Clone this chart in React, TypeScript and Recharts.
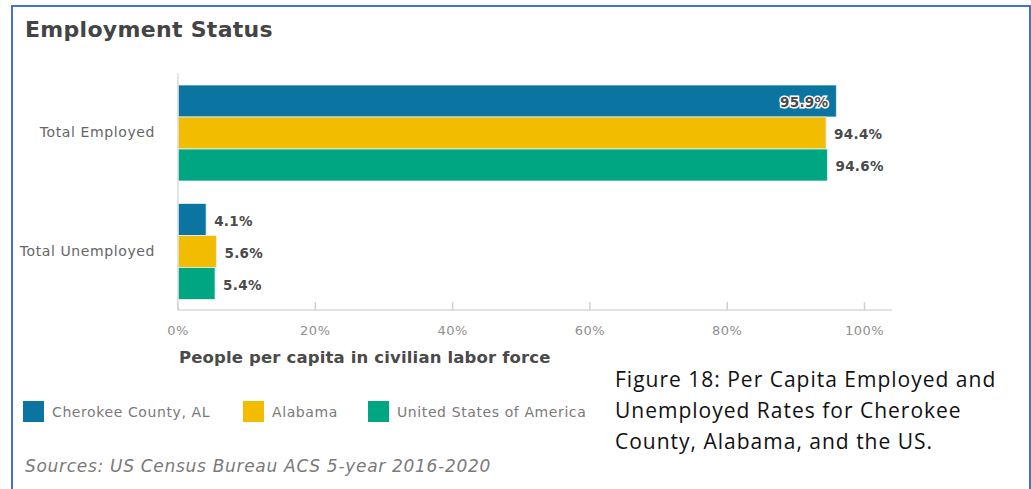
import { BarChart, Bar, XAxis, YAxis, LabelList } from 'recharts'

const categories = ['Total Employed', 'Total Unemployed']
const cherokee = [95.9, 4.1]
const alabama = [94.4, 5.6]
const usa = [94.6, 5.4]
const xTicks = [0, 20, 40, 60, 80, 100]

const series = [
  { key: 'cherokee', name: 'Cherokee County, AL', color: '#0c74a0' },
  { key: 'alabama', name: 'Alabama', color: '#f2bc00' },
  { key: 'usa', name: 'United States of America', color: '#00a581' },
]

const data = categories.map((name, i) => ({
  name,
  cherokee: cherokee[i],
  alabama: alabama[i],
  usa: usa[i],
}))

const FONT = '"DejaVu Sans", Verdana, sans-serif'
const PLOT_RIGHT = 892
const legendX = [23, 243, 368]

function XTick(props: any) {
  const { x, y, payload } = props
  return (
    <g>
      <line x1={x} x2={x} y1={y - 8} y2={y} stroke="#d0d0d0" strokeWidth={1.5} />
      <text
        x={x}
        y={y + 25}
        textAnchor="middle"
        fill="#8f8f8f"
        fontSize={13}
        fontFamily={FONT}
        style={{ letterSpacing: 0.5 }}
      >
        {payload.value}%
      </text>
    </g>
  )
}

// label goes inside the bar when it would run past the plot edge
function ValueLabel(props: any) {
  const { x, y, width, height, value } = props
  const txt = `${value}%`
  const end = x + width
  const inside = end + 8 + 49 > PLOT_RIGHT
  const cy = y + height / 2 + 6
  const common = {
    fontSize: 13.5,
    fontWeight: 'bold',
    fontFamily: FONT,
    fill: '#4a4a4a',
    style: { letterSpacing: 0.3 },
  }
  if (inside) {
    return (
      <text x={end - 8} y={cy} textAnchor="end" stroke="#fff" strokeWidth={3} paintOrder="stroke" {...common}>
        {txt}
      </text>
    )
  }
  return (
    <text x={end + 8} y={cy} {...common}>
      {txt}
    </text>
  )
}

export default function App() {
  return (
    <div style={{ position: 'absolute', left: 0, top: 0, width: 1031, height: 489, overflow: 'hidden', background: '#fff' }}>
      <BarChart
        width={1031}
        height={489}
        data={data}
        layout="vertical"
        margin={{ top: 73, right: 139, bottom: 149, left: 0 }}
        barCategoryGap={12}
        barGap={0}
        style={{ position: 'absolute', left: 0, top: 0 }}
      >
        <XAxis
          type="number"
          domain={[0, 104]}
          ticks={xTicks}
          height={30}
          tickSize={0}
          tickMargin={0}
          tickLine={false}
          axisLine={{ stroke: '#d8d8d8', strokeWidth: 1.5 }}
          tick={<XTick />}
          interval={0}
        />
        <YAxis
          type="category"
          dataKey="name"
          width={178}
          tickSize={0}
          tickMargin={23}
          tickLine={false}
          axisLine={{ stroke: '#dcdcdc', strokeWidth: 1.5 }}
          tick={{ fill: '#666', fontSize: 14, fontFamily: FONT, style: { letterSpacing: 0.6 } }}
        />
        {series.map((s) => (
          <Bar key={s.key} dataKey={s.key} name={s.name} fill={s.color} stroke="#e6f2f5" strokeWidth={0.8} isAnimationActive={false}>
            <LabelList dataKey={s.key} content={<ValueLabel />} />
          </Bar>
        ))}
      </BarChart>

      <div
        style={{
          position: 'absolute',
          left: 11,
          top: 5,
          width: 1020,
          height: 520,
          boxSizing: 'border-box',
          border: '2px solid #4472c4',
          pointerEvents: 'none',
        }}
      />

      <div style={{ position: 'absolute', left: 25, top: 17, fontFamily: FONT, fontWeight: 'bold', fontSize: 22, letterSpacing: 0.3, color: '#444' }}>
        Employment Status
      </div>

      <div style={{ position: 'absolute', left: 179, top: 348, fontFamily: FONT, fontWeight: 'bold', fontSize: 16.5, letterSpacing: 0.15, color: '#4a4a4a' }}>
        People per capita in civilian labor force
      </div>

      {series.map((s, i) => (
        <div
          key={s.key}
          style={{
            position: 'absolute',
            left: legendX[i],
            top: 401,
            height: 21,
            display: 'flex',
            alignItems: 'center',
            fontFamily: FONT,
            fontSize: 14,
            letterSpacing: 0.6,
            color: '#7a7a7a',
            whiteSpace: 'nowrap',
          }}
        >
          <span style={{ display: 'inline-block', width: 21, height: 21, background: s.color, marginRight: 8 }} />
          <span>{s.name}</span>
        </div>
      ))}

      <div style={{ position: 'absolute', left: 25, top: 456, fontFamily: FONT, fontStyle: 'italic', fontSize: 17, letterSpacing: 0.7, color: '#7a7a7a' }}>
        Sources: US Census Bureau ACS 5-year 2016-2020
      </div>

      <div style={{ position: 'absolute', left: 615, top: 364, fontFamily: '"Open Sans", sans-serif', fontSize: 21, letterSpacing: 1, lineHeight: '31px', color: '#111' }}>
        Figure 18: Per Capita Employed and
        <br />
        Unemployed Rates for Cherokee
        <br />
        County, Alabama, and the US.
      </div>
    </div>
  )
}
